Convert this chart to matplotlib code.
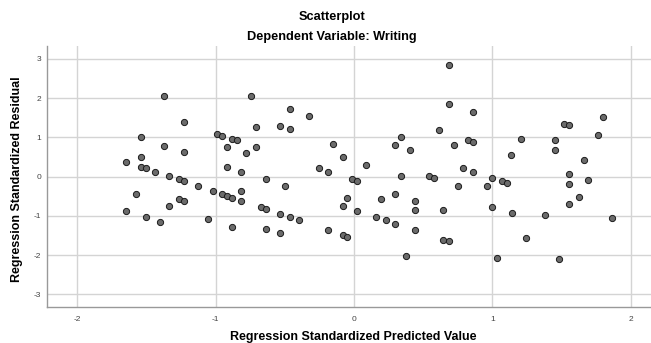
import matplotlib
matplotlib.use("Agg")
import matplotlib.pyplot as plt

# ── Data (standardized predicted vs residual) ────────────────────────────────
predicted = [
    -1.646, -1.542, -1.542, -1.542, -1.506, -1.439, -1.369, -1.369, -1.333, -1.265,
    -1.231, -1.231, -0.988, -0.952, -0.915, -0.915, -0.882, -0.846, -0.819, -1.231,
    -1.125, -1.022, -0.952, -0.915, -0.882, -0.819, -0.819, -1.578, -1.646, -1.265,
    -1.231, -1.333, -1.506, -1.403, -1.056, -0.882, -0.742, -0.778, -0.706, -0.706,
    -0.636, -0.535, -0.465, -0.465, -0.328, -0.255, -0.188, -0.152, -0.082, -0.012,
    0.090, 0.299, 0.338, 0.405, 0.338, -0.499, -0.672, -0.636, -0.535, -0.465,
    -0.395, -0.636, -0.535, -0.188, -0.082, -0.048, -0.082, -0.048, 0.022, 0.022,
    0.159, 0.229, 0.299, 0.372, 0.195, 0.299, 0.439, 0.439, 0.439, 0.683,
    0.683, 0.858, 0.615, 0.719, 0.822, 0.858, 0.786, 0.858, 0.545, 0.578,
    0.998, 1.068, 1.205, 1.135, 1.449, 1.449, 1.518, 1.555, 1.659, 1.762,
    1.796, 1.555, 1.692, 1.102, 0.752, 0.962, 1.555, 1.625, 1.555, 0.646,
    0.998, 1.138, 1.379, 1.866, 0.646, 0.683, 1.239, 1.030, 1.482,
]
residual = [
    0.374, 1.003, 0.501, 0.254, 0.214, 0.127, 2.046, 0.789, 0.005, -0.071,
    1.384, 0.628, 1.087, 1.043, 0.756, 0.254, 0.967, 0.926, 0.127, -0.117,
    -0.237, -0.364, -0.448, -0.491, -0.534, -0.364, -0.611, -0.448, -0.865, -0.575,
    -0.618, -0.738, -1.033, -1.160, -1.069, -1.280, 2.046, 0.595, 1.257, 0.756,
    -0.059, 1.298, 1.715, 1.214, 1.545, 0.209, 0.132, 0.840, 0.509, -0.059,
    0.305, 0.799, 1.010, 0.679, 0.018, -0.237, -0.779, -0.822, -0.941, -1.025,
    -1.109, -1.323, -1.440, -1.364, -0.738, -0.534, -1.483, -1.527, -0.117, -0.865,
    -1.025, -1.109, -1.196, -2.025, -0.575, -0.448, -0.611, -0.860, -1.356, 2.842,
    1.850, 1.639, 1.181, 0.799, 0.926, 0.883, 0.221, 0.132, 0.018, -0.025,
    -0.025, -0.097, 0.967, 0.552, 0.926, 0.679, 1.349, 1.308, 0.433, 1.053,
    1.511, 0.061, -0.092, -0.153, -0.237, -0.237, -0.186, -0.517, -0.687, -0.855,
    -0.771, -0.931, -0.975, -1.059, -1.603, -1.644, -1.560, -2.061, -2.102,
]
x_ticks = [-2, -1, 0, 1, 2]
y_ticks = [-3, -2, -1, 0, 1, 2, 3]

plt.rcParams["font.family"] = ["Liberation Sans", "DejaVu Sans"]

fig = plt.figure(figsize=(6.51, 3.43), dpi=100)
ax = fig.add_axes([0.0717, 0.106, 0.9283, 0.76])

ax.scatter(predicted, residual, s=20, c="#6b6b6b", edgecolors="#1a1a1a",
           linewidths=0.7, zorder=3)

ax.set_xlim(-2.22, 2.145)
ax.set_ylim(-3.31, 3.33)
ax.set_xticks(x_ticks)
ax.set_yticks(y_ticks)
ax.set_xticklabels([str(t) for t in x_ticks])
ax.set_yticklabels([str(t) for t in y_ticks])
ax.tick_params(length=0, labelsize=6, colors="#444444")
ax.tick_params(axis="x", pad=7)
ax.tick_params(axis="y", pad=4)

ax.grid(True, color="#d4d4d4", linewidth=1.0, zorder=0)
for side in ("top", "right"):
    ax.spines[side].set_visible(False)
for side in ("left", "bottom"):
    ax.spines[side].set_color("#999999")
    ax.spines[side].set_linewidth(1.0)

ax.set_xlabel("Regression Standardized Predicted Value", fontsize=9,
              fontweight="bold", va="center")
ax.set_ylabel("Regression Standardized Residual", fontsize=9,
              fontweight="bold", va="center")
ax.xaxis.set_label_coords(0.508, -0.116)
ax.yaxis.set_label_coords(-0.049, 0.49)

fig.text(0.51, 0.95, "Scatterplot", ha="center", va="center",
         fontsize=9.2, fontweight="bold")
fig.text(0.51, 0.892, "Dependent Variable: Writing", ha="center", va="center",
         fontsize=9.2, fontweight="bold")

fig.savefig("out.png", dpi=100)
